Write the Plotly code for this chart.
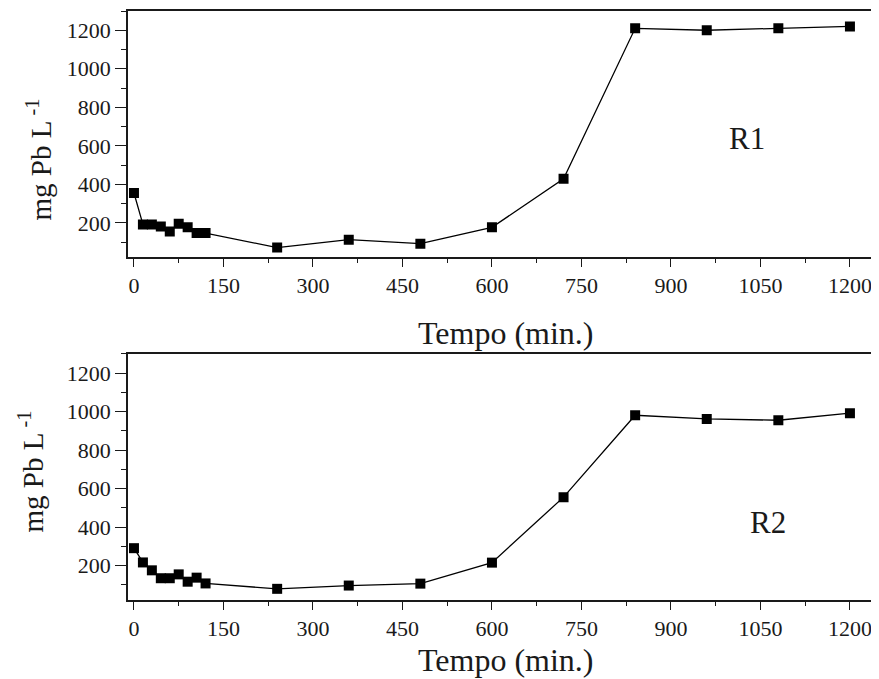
import plotly.graph_objects as go
from plotly.subplots import make_subplots

time_min = [0, 15, 30, 45, 60, 75, 90, 105, 120, 240, 360, 480, 600, 720, 840, 960, 1080, 1200]
r1_pb = [355, 192, 192, 182, 155, 195, 177, 147, 147, 72, 113, 92, 177, 429, 1210, 1200, 1210, 1220]
r2_pb = [291, 217, 176, 135, 135, 155, 117, 138, 108, 80, 97, 107, 216, 556, 981, 962, 955, 992]
x_ticks = [0, 150, 300, 450, 600, 750, 900, 1050, 1200]
y_ticks = [200, 400, 600, 800, 1000, 1200]
panel_labels = ["R1", "R2"]

FONT = "Liberation Serif"
INK = "#1a1a1a"

fig = make_subplots(rows=2, cols=1)

for i, series in enumerate([r1_pb, r2_pb], start=1):
    fig.add_trace(go.Scatter(
        x=time_min, y=series, mode="lines+markers",
        line=dict(color="black", width=1.3),
        marker=dict(symbol="square", size=10, color="black"),
        showlegend=False), row=i, col=1)

axis_common = dict(
    showline=True, linecolor=INK, linewidth=1.5, mirror=True,
    ticks="outside", tickwidth=1.3, tickcolor=INK,
    showgrid=False, zeroline=False,
    tickfont=dict(family=FONT, size=22, color=INK),
)
xa = dict(axis_common, range=[-10, 1242], tickvals=x_ticks, ticklen=8,
          minor=dict(ticks="outside", ticklen=4, tickwidth=1.3, tickcolor=INK, dtick=75, tick0=0, showgrid=False))
ya = dict(axis_common, range=[22, 1300], tickvals=y_ticks, ticklen=11, ticksuffix="\u00a0",
          minor=dict(ticks="outside", ticklen=5, tickwidth=1.3, tickcolor=INK, dtick=100, tick0=0, showgrid=False))

fig.update_layout(
    xaxis=dict(xa, domain=[0, 1], anchor="y"),
    yaxis=dict(ya, domain=[0.582, 1.0], anchor="x"),
    xaxis2=dict(xa, domain=[0, 1], anchor="y2"),
    yaxis2=dict(ya, domain=[0.0, 0.418], anchor="x2"),
)

annotations = [
    dict(text="Tempo (min.)", x=0.506, y=0.4535, xref="paper", yref="paper",
         xanchor="center", yanchor="middle", showarrow=False,
         font=dict(family=FONT, size=32, color=INK)),
    dict(text="Tempo (min.)", x=0.506, y=-0.1015, xref="paper", yref="paper",
         xanchor="center", yanchor="middle", showarrow=False,
         font=dict(family=FONT, size=32, color=INK)),
    dict(text="mg Pb L<sup> -1</sup>", x=-0.119, y=0.748, xref="paper", yref="paper",
         xanchor="center", yanchor="middle", showarrow=False, textangle=-90,
         font=dict(family=FONT, size=29, color=INK)),
    dict(text="mg Pb L<sup> -1</sup>", x=-0.13, y=0.218, xref="paper", yref="paper",
         xanchor="center", yanchor="middle", showarrow=False, textangle=-90,
         font=dict(family=FONT, size=29, color=INK)),
    dict(text=panel_labels[0], x=1027, y=640, xref="x", yref="y", showarrow=False,
         font=dict(family=FONT, size=31, color=INK)),
    dict(text=panel_labels[1], x=1062, y=422, xref="x2", yref="y2", showarrow=False,
         font=dict(family=FONT, size=31, color=INK)),
]

# page body has an 8px margin, so the figure is sized/offset to fit the window
fig.update_layout(
    width=871, height=671,
    margin=dict(l=120, r=4, t=1, b=79),
    paper_bgcolor="white", plot_bgcolor="white",
    annotations=annotations,
)

fig.write_html("out.html")
